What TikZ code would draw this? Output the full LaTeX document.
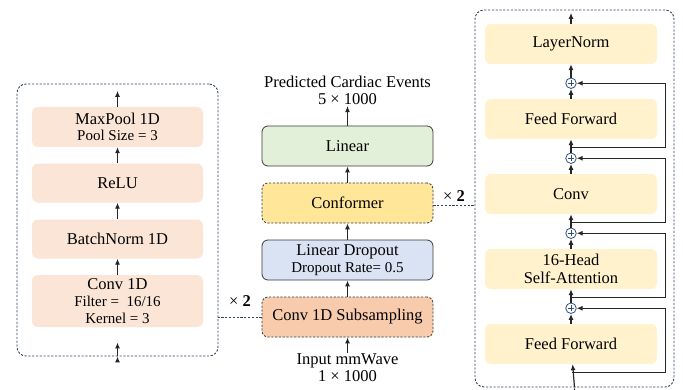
\documentclass[tikz,border=0pt]{standalone}
\usepackage{fontspec}
\setmainfont{Liberation Serif}
\usepackage{xcolor}
\usepackage{tikz}
\usetikzlibrary{positioning, arrows.meta, calc}

\definecolor{peach}{HTML}{FBE5D6}
\definecolor{cream}{HTML}{FFF2CC}
\definecolor{lingreen}{HTML}{E2F0D9}
\definecolor{confyellow}{HTML}{FFE699}
\definecolor{dropblue}{HTML}{DAE3F3}
\definecolor{subsamp}{HTML}{F8CBAD}
\definecolor{outerblue}{HTML}{33445E}
\definecolor{plusblue}{HTML}{2F4F7F}
\definecolor{edgegray}{HTML}{3A3A3A}

\newcommand{\subtxt}[1]{{\fontsize{15}{17}\selectfont #1}}

\begin{document}
\begin{tikzpicture}[x=1pt, y=1pt, on grid, >={Latex[length=6pt,width=5pt]},
        blk/.style={rounded corners=6pt, minimum width=171pt, minimum height=40pt, align=center,
            font=\fontsize{16.5}{17.5}\selectfont, inner sep=2pt},
        mainblk/.style={blk, draw=edgegray, line width=0.8pt},
        outer/.style={draw=outerblue, dash pattern=on 2.2pt off 1.6pt, rounded corners=9pt, line width=0.9pt},
        addop/.style={circle, draw=plusblue, fill=white, minimum size=10.5pt, inner sep=0pt, line width=0.8pt,
            path picture={\draw[plusblue, line width=0.6pt] (path picture bounding box.center)
                +(-2.8pt,0) -- +(2.8pt,0) +(0,-2.8pt) -- +(0,2.8pt);}},
        flow/.style={->, line width=1.2pt, draw=black!85},
        rep/.style={draw=outerblue, dash pattern=on 2.2pt off 1.6pt, line width=0.9pt},
        txt/.style={align=center, font=\fontsize{16.5}{17}\selectfont, inner sep=1pt}]

    \useasboundingbox (0,0) rectangle (683,389);

    % middle column
    \node[mainblk, fill=subsamp, dash pattern=on 2.2pt off 1.6pt] (sub) at (347.5,72) {Conv 1D Subsampling};
    \node[mainblk, fill=dropblue] (drop) [above=57pt of sub] {Linear Dropout\\[-1pt]\subtxt{Dropout Rate= 0.5}};
    \node[mainblk, fill=confyellow, dash pattern=on 2.2pt off 1.6pt] (conf) [above=57pt of drop] {Conformer};
    \node[mainblk, fill=lingreen] (lin) [above=57pt of conf] {Linear};
    \node[txt] (out) at (347.5,298.5) {Predicted Cardiac Events\\5 × 1000};
    \node[txt] (in) at (347.5,21) {Input mmWave\\1 × 1000};

    \path[flow]
    (in) edge (sub)
    (sub) edge (drop)
    (drop) edge (conf)
    (conf) edge (lin)
    (lin) edge (out);

    % left block: conv stack
    \node[outer, minimum width=201pt, minimum height=272pt] (convstack) at (117.5,169) {};
    \node[blk, fill=peach, minimum height=52pt] (conv) at (117.5,88) {Conv 1D\\\subtxt{Filter =~~16/16}\\[-1pt]\subtxt{Kernel = 3}};
    \node[blk, fill=peach, minimum height=39pt] (bn) [above=62pt of conv] {BatchNorm 1D};
    \node[blk, fill=peach, minimum height=39pt] (relu) [above=56pt of bn] {ReLU};
    \node[blk, fill=peach] (pool) [above=56pt of relu] {MaxPool 1D\\[-1pt]\subtxt{Pool Size = 3}};
    \coordinate[above=14pt of convstack.south] (convin);
    \coordinate[above=16pt of pool.north] (poolout);

    \path[flow]
    (convstack.south) edge (convin)
    (conv) edge (bn)
    (bn) edge (relu)
    (relu) edge (pool)
    (pool) edge (poolout);

    \draw[rep] (sub.west) -- (sub.west -| convstack.east)
        node[midway, above=7pt, font=\fontsize{16.5}{17}\selectfont] {× \textbf{2}};

    % right block: conformer layer
    \node[outer, minimum width=199pt, minimum height=377pt] (confblock) at (574.5,190.5) {};
    \node[blk, fill=cream, minimum width=172pt] (ff1) at (571,45) {Feed Forward};
    \node[blk, fill=cream, minimum width=172pt] (mhsa) [above=75pt of ff1] {16-Head\\Self-Attention};
    \node[blk, fill=cream, minimum width=172pt] (cnv) [above=75pt of mhsa] {Conv};
    \node[blk, fill=cream, minimum width=172pt] (ff2) [above=75pt of cnv] {Feed Forward};
    \node[blk, fill=cream, minimum width=172pt] (ln) [above=75pt of ff2] {LayerNorm};

    \node[addop] (add1) at ($(ff1.north)!0.45!(mhsa.south)$) {};
    \node[addop] (add2) at ($(mhsa.north)!0.45!(cnv.south)$) {};
    \node[addop] (add3) at ($(cnv.north)!0.45!(ff2.south)$) {};
    \node[addop] (add4) at ($(ff2.north)!0.45!(ln.south)$) {};

    \coordinate (br0) at ($(confblock.south)!0.65!(ff1.south)$);
    \coordinate (br1) at ($(add1.north)!0.4!(mhsa.south)$);
    \coordinate (br2) at ($(add2.north)!0.4!(cnv.south)$);
    \coordinate (br3) at ($(add3.north)!0.4!(ff2.south)$);
    \coordinate (rail) at ($(ff1.east)+(8pt,0)$);
    \coordinate[above=11pt of ln.north] (lnout);

    \path[flow]
    (confblock.south) edge (ff1)
    (ff1) edge (add1)
    (add1) edge (mhsa)
    (mhsa) edge (add2)
    (add2) edge (cnv)
    (cnv) edge (add3)
    (add3) edge (ff2)
    (ff2) edge (add4)
    (add4) edge (ln)
    (ln) edge (lnout);

    \draw[flow] (br0) -- (br0 -| rail) |- (add1);
    \draw[flow] (br1) -- (br1 -| rail) |- (add2);
    \draw[flow] (br2) -- (br2 -| rail) |- (add3);
    \draw[flow] (br3) -- (br3 -| rail) |- (add4);

    \draw[rep] ($(conf.east)+(0,-2pt)$) coordinate (confx) -- (confx -| confblock.west)
        node[midway, above=0pt, font=\fontsize{16.5}{17}\selectfont] {× \textbf{2}};

\end{tikzpicture}
\end{document}
